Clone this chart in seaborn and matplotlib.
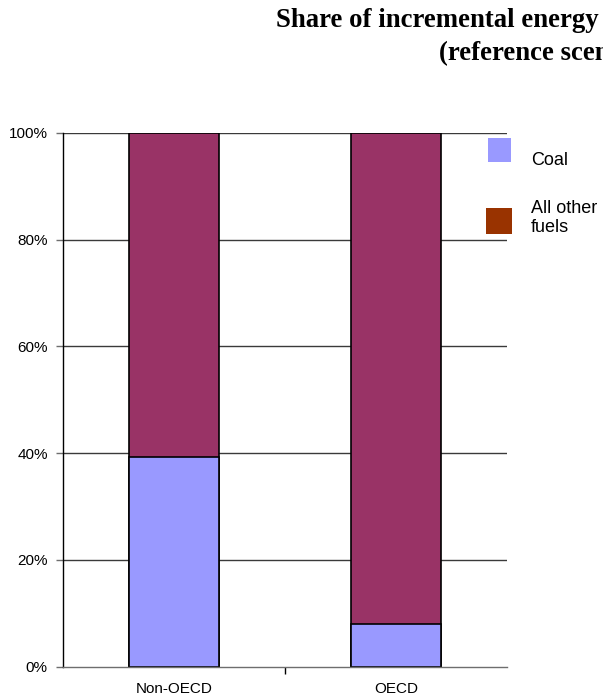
"""Stacked share chart: coal vs all other fuels by region."""

import matplotlib
matplotlib.use("Agg")
import matplotlib.pyplot as plt
from matplotlib.patches import Rectangle
from matplotlib.ticker import FixedLocator, PercentFormatter
import pandas as pd
import seaborn as sns

regions = ["Non-OECD", "OECD"]
coal_share = [39.3, 8.0]
other_share = [60.7, 92.0]
y_ticks = [0, 20, 40, 60, 80, 100]

COAL = "#9999ff"
OTHER = "#993366"
OTHER_KEY = "#993300"

sns.set_style("white")
plt.rcParams["font.family"] = ["Liberation Sans", "DejaVu Sans"]
plt.rcParams["text.color"] = "black"
plt.rcParams["xtick.labelcolor"] = "black"
plt.rcParams["ytick.labelcolor"] = "black"

df = pd.DataFrame({"region": regions, "coal": coal_share, "other": other_share})
df["total"] = df["coal"] + df["other"]

fig = plt.figure(figsize=(6.03, 7.0), dpi=100)
ax = fig.add_axes([0.1045, 0.0476, 0.7363, 0.7624])

# stacked: draw the full column first, then coal over its bottom part
sns.barplot(data=df, x="region", y="total", color=OTHER, width=0.405,
            edgecolor="black", linewidth=1.2, saturation=1, ax=ax)
sns.barplot(data=df, x="region", y="coal", color=COAL, width=0.405,
            edgecolor="black", linewidth=1.2, saturation=1, ax=ax)

ax.set_xlim(-0.5, 1.5)
ax.set_ylim(0, 100)
ax.set_yticks(y_ticks)
ax.yaxis.set_major_formatter(PercentFormatter(decimals=0))
ax.set_xlabel("")
ax.set_ylabel("")
ax.grid(False)
for y in y_ticks[1:]:
    ax.axhline(y, color="#3a3a3a", linewidth=1, zorder=0)

for side in ["top", "right"]:
    ax.spines[side].set_visible(False)
ax.spines["left"].set_color("black")
ax.spines["left"].set_linewidth(1)
ax.spines["bottom"].set_color("#6e6e6e")
ax.spines["bottom"].set_linewidth(1)

ax.tick_params(axis="y", direction="out", length=5, width=1, color="#6e6e6e",
               pad=6, labelsize=11, left=True)
ax.tick_params(axis="x", which="major", length=0, pad=11, labelsize=11)
ax.xaxis.set_minor_locator(FixedLocator([0.5]))
ax.tick_params(axis="x", which="minor", direction="out", length=5, width=1,
               color="black", bottom=True)

# legend keys placed by hand, the way the original sheet had them
fig.add_artist(Rectangle((0.8093, 0.7686), 0.0381, 0.0343, facecolor=COAL,
                         edgecolor="none", transform=fig.transFigure))
fig.add_artist(Rectangle((0.806, 0.6657), 0.0431, 0.0371, facecolor=OTHER_KEY,
                         edgecolor="none", transform=fig.transFigure))
fig.text(0.880, 0.7643, "Coal", fontsize=13, va="baseline")
fig.text(0.880, 0.6957, "All other", fontsize=13, va="baseline")
fig.text(0.880, 0.6686, "fuels", fontsize=13, va="baseline")

fig.text(0.458, 0.9614, "Share of incremental energy", fontsize=19.3,
         fontweight="bold", family="Liberation Serif", ha="left", va="baseline")
fig.text(0.728, 0.914, "(reference scenario)", fontsize=19.3,
         fontweight="bold", family="Liberation Serif", ha="left", va="baseline")

fig.savefig("out.png", dpi=100)
plt.close(fig)
